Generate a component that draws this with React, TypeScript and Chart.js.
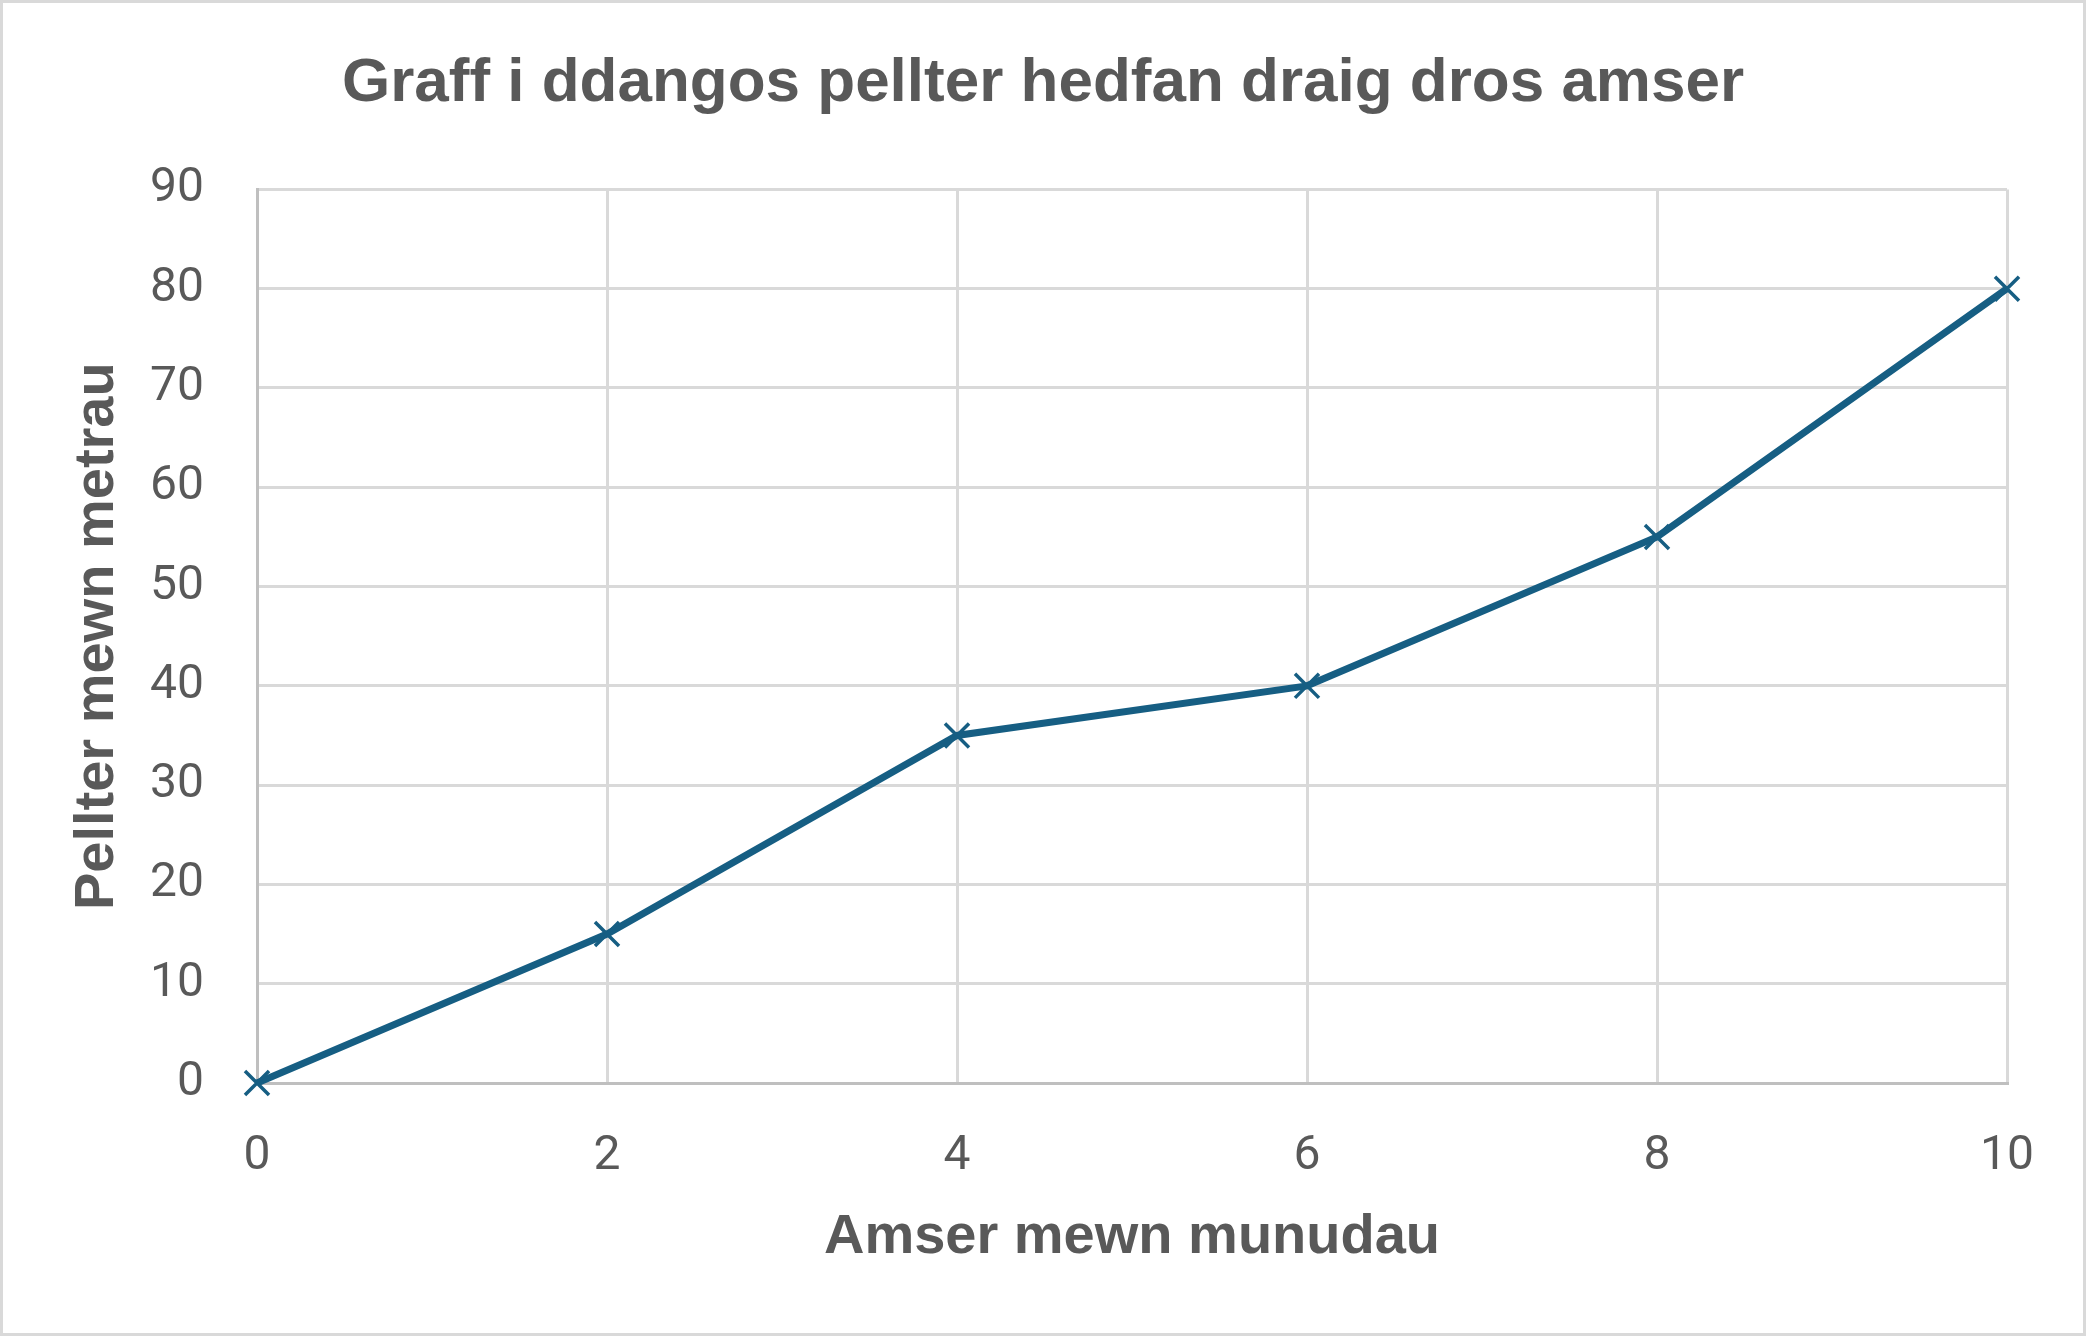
import React, { useEffect, useRef } from "react";
import { Chart, registerables } from "chart.js";

Chart.register(...registerables);

const TITLE = "Graff i ddangos pellter hedfan draig dros amser";
const X_TITLE = "Amser mewn munudau";
const Y_TITLE = "Pellter mewn metrau";
const minutes = [0, 2, 4, 6, 8, 10];
const distances = [0, 15, 35, 40, 55, 80];

const W = 2086;
const H = 1336;
const TEXT = "#595959";
const LINE = "#165e83";

const borderPlugin = {
  id: "outerBorder",
  afterDraw(chart: any) {
    const ctx = chart.ctx;
    ctx.save();
    ctx.strokeStyle = "#d9d9d9";
    ctx.lineWidth = 3;
    ctx.strokeRect(1.5, 1.5, chart.width - 3, chart.height - 3);
    ctx.restore();
  },
  beforeDraw(chart: any) {
    const ctx = chart.ctx;
    ctx.save();
    ctx.fillStyle = "#ffffff";
    ctx.fillRect(0, 0, chart.width, chart.height);
    ctx.restore();
  },
};

export default function App() {
  const ref = useRef<HTMLCanvasElement | null>(null);

  useEffect(() => {
    document.body.style.margin = "0";
    const canvas = ref.current;
    if (!canvas) return;
    const points = minutes.map((m, i) => ({ x: m, y: distances[i] }));
    const chart = new Chart(canvas, {
      type: "line",
      data: {
        datasets: [
          {
            data: points,
            borderColor: LINE,
            backgroundColor: LINE,
            borderWidth: 7,
            pointStyle: "crossRot",
            pointRadius: 17,
            pointBorderWidth: 3.5,
            pointBorderColor: LINE,
            tension: 0,
            fill: false,
            clip: false,
          },
        ],
      },
      options: {
        animation: false,
        responsive: false,
        devicePixelRatio: 1,
        layout: { padding: 0 },
        plugins: {
          legend: { display: false },
          tooltip: { enabled: false },
          title: {
            display: true,
            text: TITLE,
            color: TEXT,
            font: {
              family: "'Liberation Sans', Arial, sans-serif",
              size: 62,
              weight: "bold",
            },
            padding: { top: 47, bottom: 68 },
          },
        },
        scales: {
          x: {
            type: "linear",
            position: "bottom",
            min: 0,
            max: 10,
            ticks: {
              stepSize: 2,
              color: TEXT,
              padding: 45,
              font: { family: "Roboto, 'Liberation Sans', sans-serif", size: 48 },
            },
            grid: { color: "#d9d9d9", lineWidth: 3, drawTicks: false },
            border: { color: "#bfbfbf", width: 3 },
            title: {
              display: true,
              text: X_TITLE,
              color: TEXT,
              font: { family: "'Liberation Sans', Arial, sans-serif", size: 56, weight: "bold" },
              padding: { top: 0, bottom: 65 },
            },
            afterFit(scale: any) {
              scale.height = 253;
            },
          },
          y: {
            type: "linear",
            position: "left",
            min: 0,
            max: 90,
            ticks: {
              stepSize: 10,
              color: TEXT,
              padding: 53,
              font: { family: "Roboto, 'Liberation Sans', sans-serif", size: 48 },
            },
            grid: { color: "#d9d9d9", lineWidth: 3, drawTicks: false },
            border: { color: "#bfbfbf", width: 3 },
            title: {
              display: true,
              text: Y_TITLE,
              color: TEXT,
              font: { family: "'Liberation Sans', Arial, sans-serif", size: 56, weight: "bold" },
              padding: { top: 64, bottom: 0 },
            },
            afterFit(scale: any) {
              scale.width = 257;
            },
          },
          yRight: {
            type: "linear",
            position: "right",
            display: true,
            ticks: { display: false },
            grid: { display: false, drawTicks: false },
            border: { display: false },
            afterFit(scale: any) {
              scale.width = 79;
            },
          },
        },
      },
      plugins: [borderPlugin],
    } as any);
    return () => chart.destroy();
  }, []);

  return (
    <div style={{ width: W, height: H }}>
      <canvas ref={ref} width={W} height={H} style={{ display: "block", width: W, height: H }} />
    </div>
  );
}
